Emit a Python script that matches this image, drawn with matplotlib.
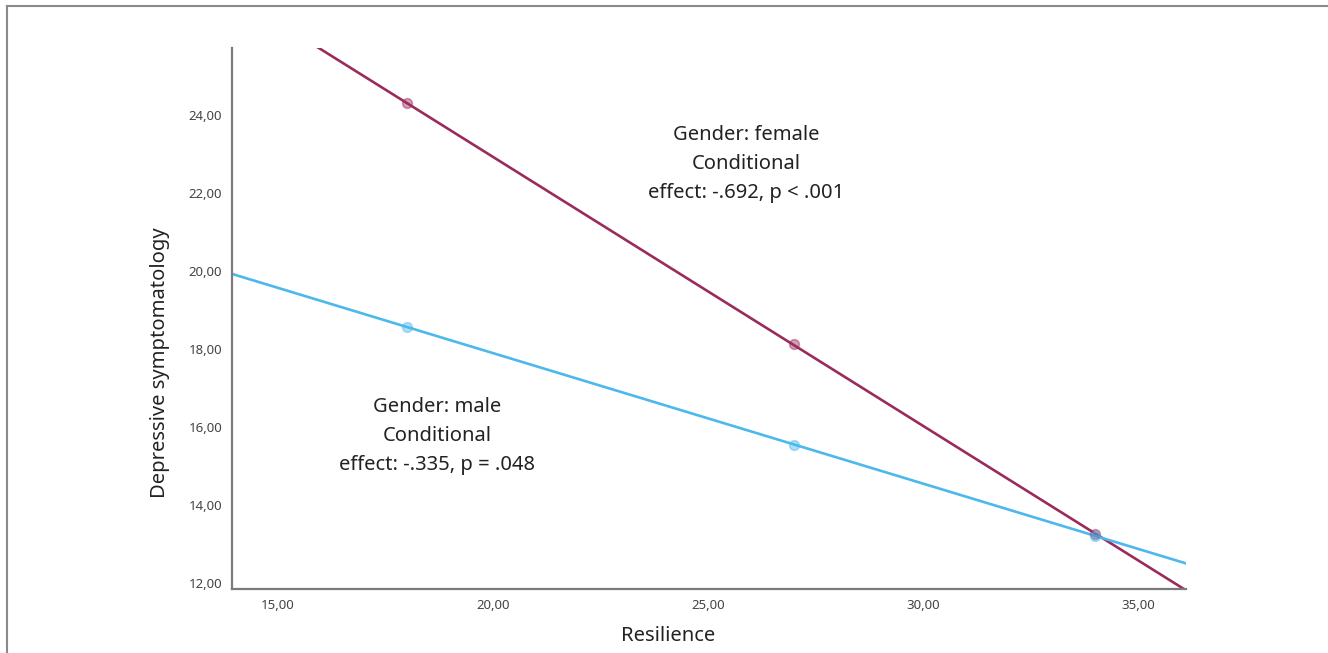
import numpy as np
import matplotlib.pyplot as plt
from matplotlib.lines import Line2D
from matplotlib.ticker import FuncFormatter

# Data
resilience = [18, 27, 34]
male_dep = [18.57, 15.55, 13.22]
female_dep = [24.30, 18.12, 13.27]

x_ticks = [15, 20, 25, 30, 35]
y_ticks = [12, 14, 16, 18, 20, 22, 24]

female_text = "Gender: female\nConditional\neffect: -.692, p < .001"
male_text = "Gender: male\nConditional\neffect: -.335, p = .048"

female_color = "#9a2b5b"
male_color = "#4cb8ec"

plt.rcParams["font.family"] = ["Noto Sans", "DejaVu Sans"]

fig = plt.figure(figsize=(13.28, 6.53), dpi=100)
ax = fig.add_axes([0.1747, 0.098, 0.7183, 0.8285])

xlim = (13.93, 36.12)
ylim = (11.85, 25.72)
xx = np.array(xlim)

for ys, col in [(female_dep, female_color), (male_dep, male_color)]:
    k, b = np.polyfit(resilience, ys, 1)
    ax.plot(xx, k * xx + b, color=col, lw=1.9, zorder=2)
    # ring-like markers: light fill, darker edge
    ax.plot(resilience, ys, "o", ms=7, mfc=col, mec=col, mew=1.2,
            alpha=0.45, zorder=3)

ax.set_xlim(*xlim)
ax.set_ylim(*ylim)
ax.set_xticks(x_ticks)
ax.set_yticks(y_ticks)
fmt = FuncFormatter(lambda v, p: f"{v:.2f}".replace(".", ","))
ax.xaxis.set_major_formatter(fmt)
ax.yaxis.set_major_formatter(fmt)
ax.tick_params(length=0, labelsize=9.5, colors="#444444", pad=7)

for s in ["top", "right"]:
    ax.spines[s].set_visible(False)
for s in ["left", "bottom"]:
    ax.spines[s].set_color("#7a7a7a")
    ax.spines[s].set_linewidth(1.6)

ax.set_xlabel("Resilience", fontsize=14.5, color="#222222")
ax.set_ylabel("Depressive symptomatology", fontsize=14.5, color="#222222")
ax.xaxis.set_label_coords(0.457, -0.068)
ax.yaxis.set_label_coords(-0.065, 0.418)

ax.text(25.9, 22.75, female_text, ha="center", va="center", fontsize=14.5,
        linespacing=1.6, color="#222222")
ax.text(18.7, 15.78, male_text, ha="center", va="center", fontsize=14.5,
        linespacing=1.6, color="#222222")

# grey frame at the top and left of the image
fig.add_artist(Line2D([0.0055, 1.0], [0.9905, 0.9905], color="#8a8a8a", lw=1.5))
fig.add_artist(Line2D([0.0055, 0.0055], [0.0, 0.9905], color="#8a8a8a", lw=1.5))

fig.savefig("out.png", dpi=100)
